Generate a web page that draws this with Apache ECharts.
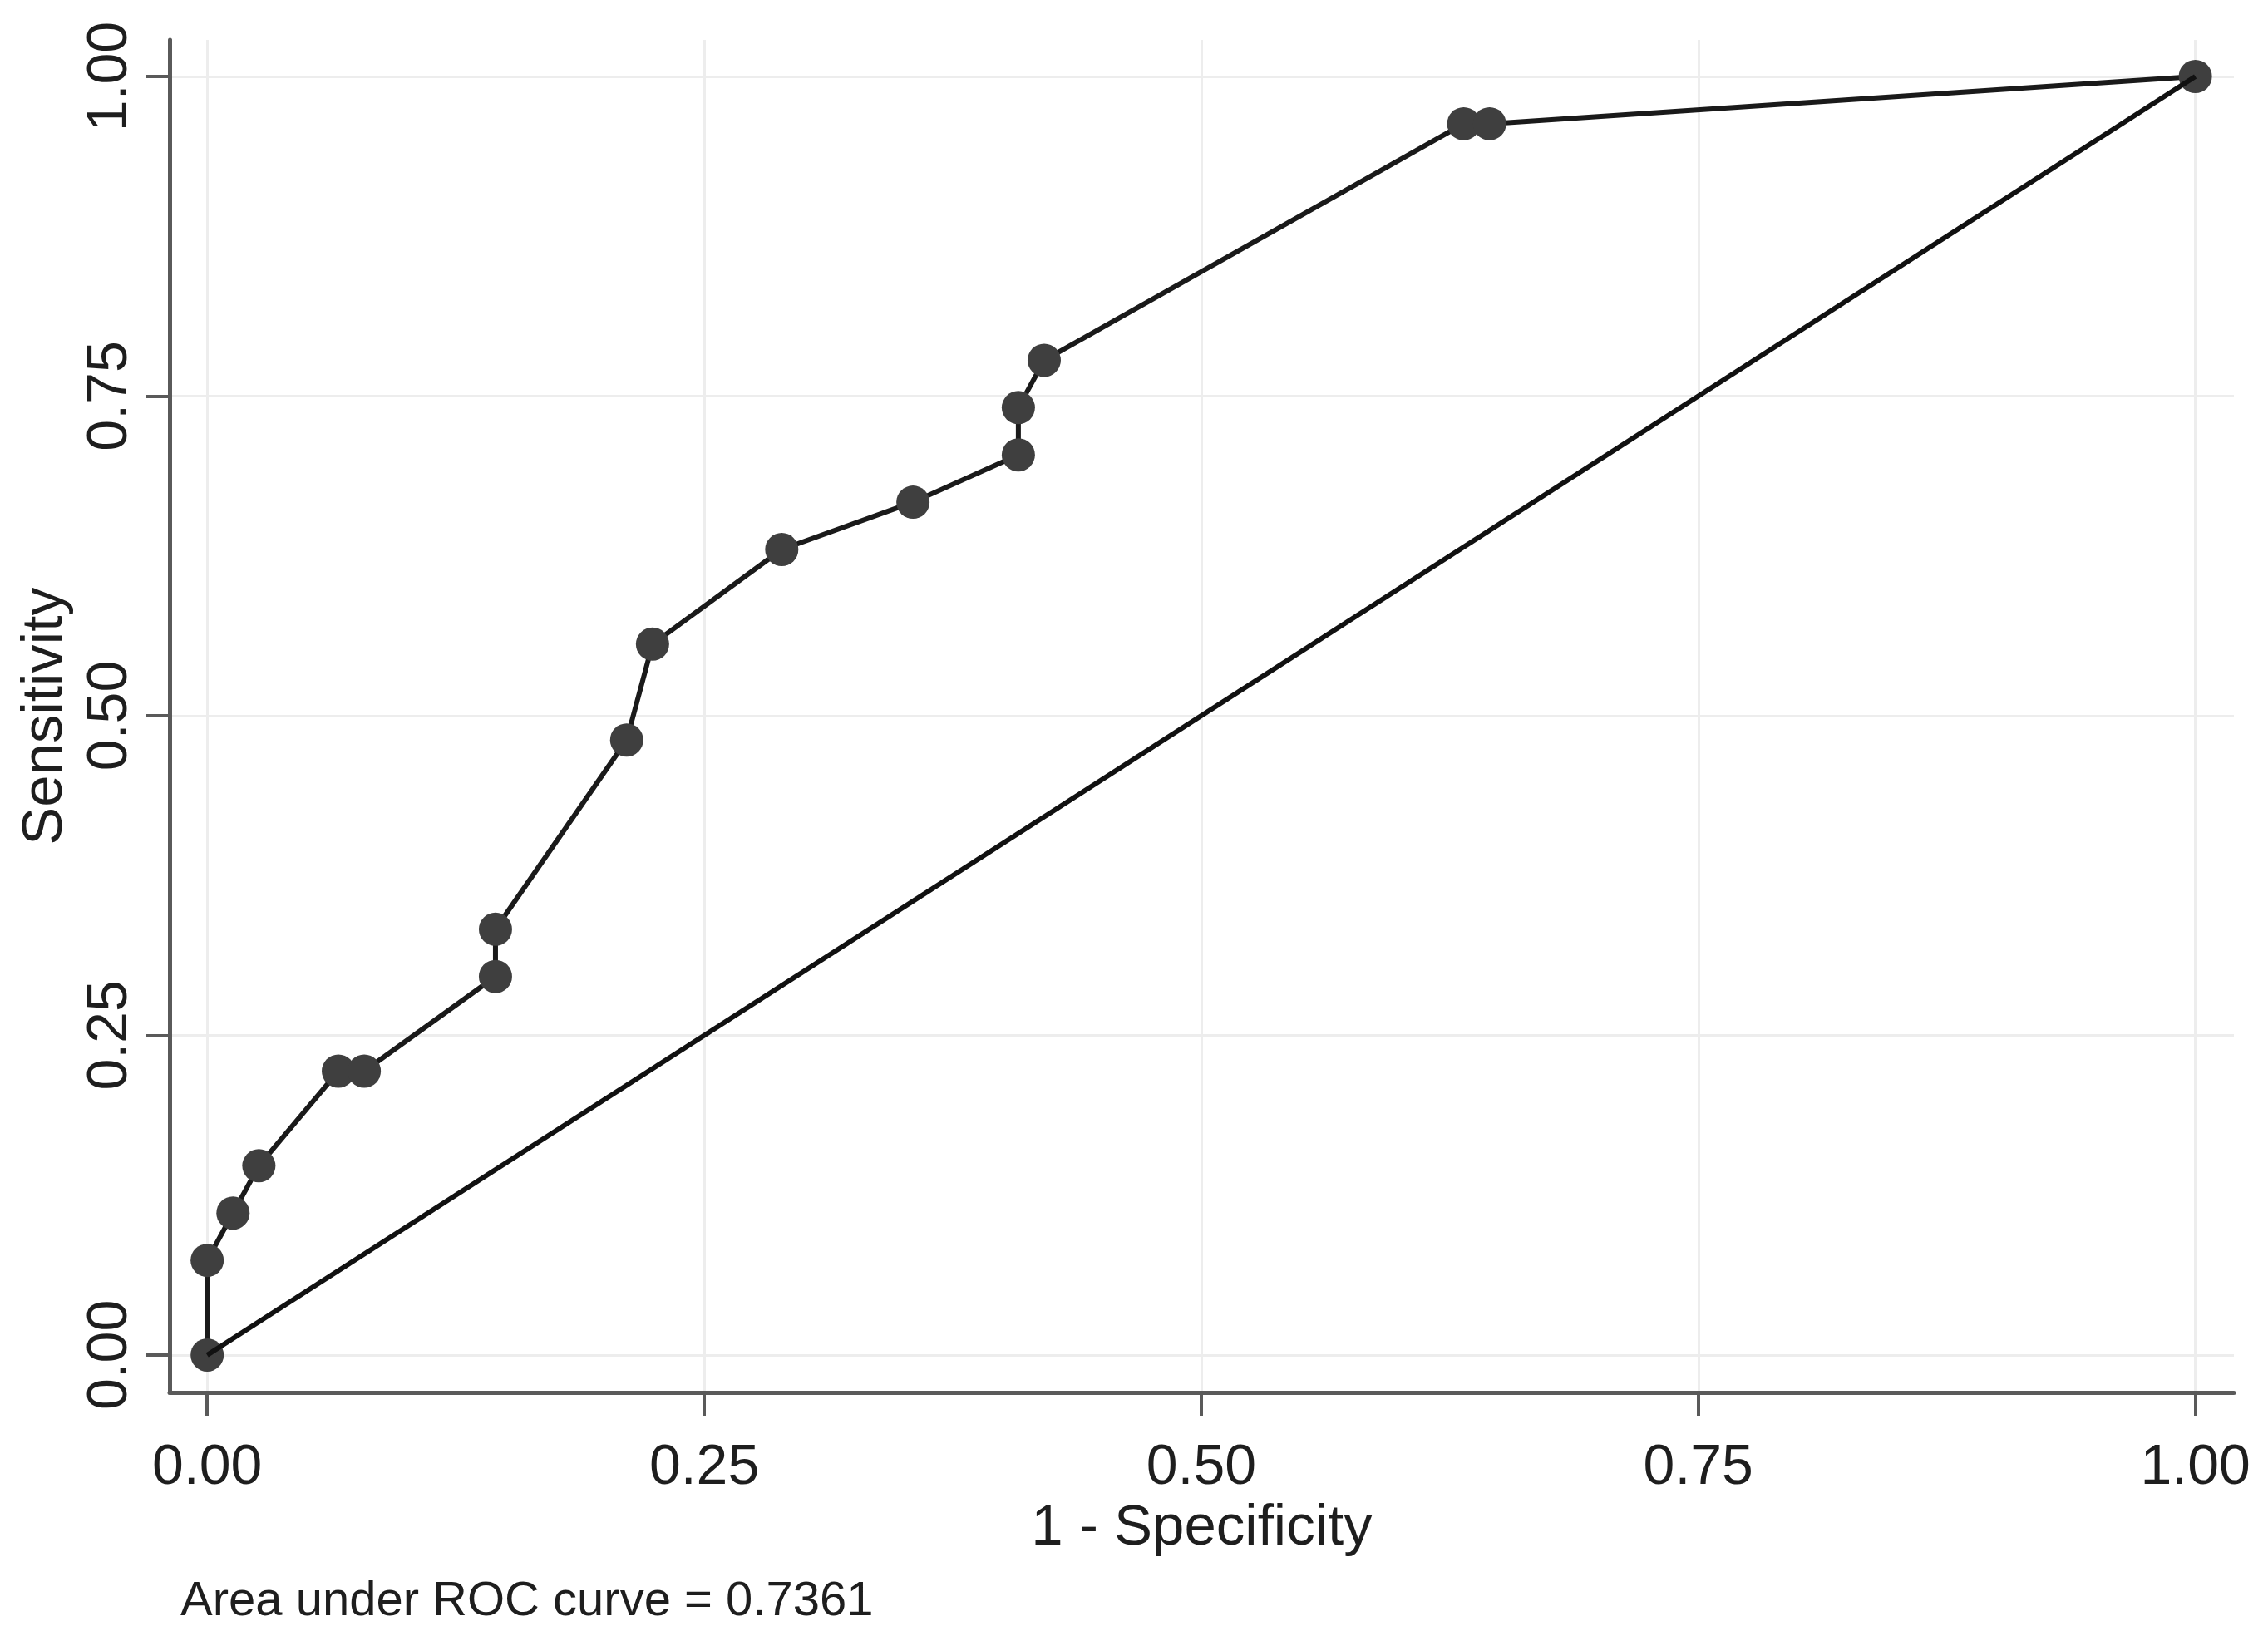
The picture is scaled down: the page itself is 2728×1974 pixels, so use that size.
<!DOCTYPE html>
<html>
<head>
<meta charset="utf-8">
<script src="https://cdn.jsdelivr.net/npm/echarts@6/dist/echarts.min.js"></script>
<style>
html,body{margin:0;padding:0;background:#fff;}
#chart{width:2728px;height:1974px;}
</style>
</head>
<body>
<div id="chart"></div>
<script>
// 1 - Specificity (false positive rate)
const fpr = [0, 0, 0.013, 0.026, 0.066, 0.079, 0.145, 0.145, 0.211, 0.224, 0.289, 0.355, 0.408, 0.408, 0.421, 0.632, 0.645, 1];
// Sensitivity
const sens = [0, 0.074, 0.111, 0.148, 0.222, 0.222, 0.296, 0.333, 0.481, 0.556, 0.630, 0.667, 0.704, 0.741, 0.778, 0.963, 0.963, 1];
// reference diagonal
const refX = [0, 1];
const refY = [0, 1];
const tickValues = [0, 0.25, 0.5, 0.75, 1];
const xTitle = '1 - Specificity';
const yTitle = 'Sensitivity';
const note = 'Area under ROC curve = 0.7361';

const FONT = '"Liberation Sans", Arial, sans-serif';
const chart = echarts.init(document.getElementById('chart'), null, {renderer: 'canvas'});

const axisCommon = {
  type: 'value',
  axisLine: {show: true, onZero: false, lineStyle: {color: '#5a5a5a', width: 5}},
  axisTick: {show: true, customValues: tickValues, length: 28, lineStyle: {color: '#5a5a5a', width: 4}},
  splitLine: {show: true, lineStyle: {color: '#ededed', width: 3}},
  nameLocation: 'middle',
  nameTextStyle: {fontFamily: FONT, fontSize: 69, color: '#1e1e1e'}
};

chart.setOption({
  animation: false,
  backgroundColor: '#ffffff',
  grid: {left: 204, right: 41, top: 48, bottom: 299, containLabel: false},
  xAxis: Object.assign({}, axisCommon, {
    min: -0.0189, max: 1.0194,
    name: xTitle, nameGap: 117,
    axisLabel: {customValues: tickValues, margin: 57, fontFamily: FONT, fontSize: 68, color: '#1e1e1e',
      formatter: v => v.toFixed(2)}
  }),
  yAxis: Object.assign({}, axisCommon, {
    min: -0.0293, max: 1.0286,
    name: yTitle, nameGap: 115,
    axisLabel: {customValues: tickValues, margin: 37, rotate: 90, fontFamily: FONT, fontSize: 68, color: '#1e1e1e',
      formatter: v => v.toFixed(2)}
  }),
  graphic: [{
    type: 'text', left: 217, top: 1898,
    style: {text: note, font: '58px ' + FONT, fill: '#1e1e1e'}
  }],
  series: [
    {
      type: 'line',
      data: fpr.map((x, i) => [x, sens[i]]),
      symbol: 'circle', symbolSize: 40,
      lineStyle: {color: '#1a1a1a', width: 6},
      itemStyle: {color: '#3f3f3f'},
      z: 3
    },
    {
      type: 'line',
      data: refX.map((x, i) => [x, refY[i]]),
      symbol: 'none',
      lineStyle: {color: '#111', width: 6},
      z: 4
    }
  ]
});
</script>
</body>
</html>
